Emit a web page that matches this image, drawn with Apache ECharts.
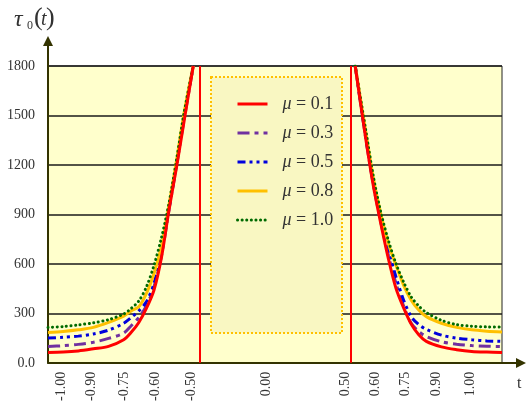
<!DOCTYPE html>
<html>
<head>
<meta charset="utf-8">
<script src="https://cdn.jsdelivr.net/npm/echarts@6/dist/echarts.min.js"></script>
<style>
  html, body { margin: 0; padding: 0; background: #fff; }
  #main { width: 526px; height: 404px; }
</style>
</head>
<body>
<div id="main"></div>
<script>
  // x positions (axis units, asymptotes at -0.5 / 0.5)
  var leftX  = [-1.5, -1.4, -1.3, -1.2, -1.1, -1.0, -0.95, -0.9, -0.85, -0.8, -0.75, -0.7, -0.65, -0.6, -0.54];
  var rightX = [0.53, 0.6, 0.65, 0.7, 0.75, 0.8, 0.85, 0.9, 0.95, 1.0, 1.1, 1.2, 1.3, 1.4, 1.5];

  var muValues = ['0.1', '0.3', '0.5', '0.8', '1.0'];
  var muNames = muValues.map(function (m) { return 'μ = ' + m; });

  var mu01L = [62, 65, 72, 85, 100, 140, 185, 245, 330, 440, 640, 930, 1190, 1470, 1800];
  var mu01R = [1800, 1357, 1072, 840, 628, 450, 333, 235, 170, 130, 97, 80, 69, 65, 63];
  var mu03L = [99, 104, 112, 125, 148, 180, 225, 275, 345, 460, 650, 930, 1200, 1480, 1800];
  var mu03R = [1800, 1360, 1080, 850, 650, 480, 345, 240, 190, 160, 128, 113, 105, 101, 99];
  var mu05L = [150, 155, 162, 175, 198, 240, 275, 315, 370, 480, 670, 940, 1210, 1500, 1800];
  var mu05R = [1800, 1370, 1090, 870, 680, 520, 380, 280, 232, 203, 168, 150, 140, 133, 130];
  var mu08L = [184, 190, 200, 215, 245, 283, 315, 340, 420, 540, 710, 960, 1230, 1520, 1800];
  var mu08R = [1800, 1400, 1120, 900, 720, 590, 470, 380, 320, 280, 240, 215, 200, 192, 187];
  var mu10L = [215, 220, 230, 243, 262, 296, 330, 375, 460, 590, 760, 970, 1235, 1520, 1800];
  var mu10R = [1800, 1410, 1130, 910, 740, 600, 490, 400, 345, 305, 258, 232, 222, 218, 217];

  // x tick labels and where they sit on the axis
  var tickLabels = ['-1.00', '-0.90', '-0.75', '-0.60', '-0.50', '0.00', '0.50', '0.60', '0.75', '0.90', '1.00'];
  var tickPos    = [-1.414, -1.216, -0.998, -0.793, -0.555, -0.059, 0.463, 0.661, 0.859, 1.064, 1.289];

  var asymptotes = [-0.5, 0.5];

  function pairs(lx, ly, rx, ry) {
    var out = [];
    for (var i = 0; i < lx.length; i++) out.push([lx[i], ly[i]]);
    out.push([0, '-']);
    for (var j = 0; j < rx.length; j++) out.push([rx[j], ry[j]]);
    return out;
  }

  var serif = 'Liberation Serif, DejaVu Serif, serif';

  var styles = [
    { color: '#ff0000', type: 'solid' },
    { color: '#7030a0', type: [12, 5, 4, 5] },
    { color: '#0000dd', type: [8, 4, 3, 4, 3, 4] },
    { color: '#ffc000', type: 'solid' },
    { color: '#006a00', type: [0.1, 4.5], cap: 'round' }
  ];
  var values = [
    [mu01L, mu01R], [mu03L, mu03R], [mu05L, mu05R], [mu08L, mu08R], [mu10L, mu10R]
  ];

  var series = [];
  for (var k = 0; k < muNames.length; k++) {
    series.push({
      name: muNames[k],
      type: 'line',
      symbol: 'none',
      smooth: 0.3,
      connectNulls: false,
      z: 3 + (k === 0 ? 2 : 0),
      itemStyle: { color: styles[k].color, opacity: 0 },
      lineStyle: { color: styles[k].color, width: 3, type: styles[k].type, cap: styles[k].cap || 'butt' },
      data: pairs(leftX, values[k][0], rightX, values[k][1])
    });
  }
  series.push({
    name: 'asym',
    type: 'line',
    data: [],
    markLine: {
      silent: true,
      symbol: 'none',
      label: { show: false },
      lineStyle: { color: '#ff0000', width: 2, type: 'solid' },
      data: asymptotes.map(function (a) { return { xAxis: a }; })
    }
  });

  var chart = echarts.init(document.getElementById('main'));
  chart.setOption({
    animation: false,
    backgroundColor: '#ffffff',
    grid: {
      left: 48, right: 24, top: 66, bottom: 41,
      show: true,
      backgroundColor: '#ffffcc',
      borderColor: '#222',
      borderWidth: 1
    },
    xAxis: {
      type: 'value',
      min: -1.5, max: 1.5,
      axisLine: { show: true, onZero: false, lineStyle: { color: '#333300', width: 2 } },
      axisTick: { show: false },
      splitLine: { show: false },
      axisLabel: {
        customValues: tickPos,
        rotate: 90,
        margin: 9,
        color: '#333',
        fontFamily: serif,
        fontSize: 14,
        formatter: function (v) {
          var best = 0;
          for (var i = 1; i < tickPos.length; i++) {
            if (Math.abs(tickPos[i] - v) < Math.abs(tickPos[best] - v)) best = i;
          }
          return tickLabels[best];
        }
      }
    },
    yAxis: {
      type: 'value',
      min: 0, max: 1800, interval: 300,
      axisLine: { show: true, onZero: false, lineStyle: { color: '#333300', width: 2 } },
      axisTick: { show: false },
      splitLine: { show: true, lineStyle: { color: '#1a1a1a', width: 1.5 } },
      axisLabel: {
        color: '#333',
        fontFamily: serif,
        fontSize: 14,
        margin: 13,
        formatter: function (v) { return v === 0 ? '0.0' : String(v); }
      }
    },
    legend: {
      data: muNames,
      orient: 'vertical',
      left: 231,
      top: 90,
      itemWidth: 30,
      itemHeight: 14,
      itemGap: 11,
      z: 10,
      itemStyle: { opacity: 0 },
      lineStyle: { width: 3 },
      formatter: function (name) {
        return '{m|μ} = ' + name.split('= ')[1];
      },
      textStyle: {
        color: '#333',
        fontFamily: serif,
        fontSize: 18,
        lineHeight: 14,
        padding: [0, 0, 0, 10],
        rich: {
          m: { fontStyle: 'italic', fontFamily: serif, fontSize: 18, color: '#333', lineHeight: 14 }
        }
      }
    },
    graphic: [
      { type: 'rect', z: 6, shape: { x: 211, y: 77, width: 131, height: 256 },
        style: { fill: '#f9f7c2', stroke: '#ffc000', lineWidth: 2, lineDash: [2, 2] } },
      // axis arrows
      { type: 'line', z: 7, shape: { x1: 48, y1: 66, x2: 48, y2: 44 }, style: { stroke: '#333300', lineWidth: 2 } },
      { type: 'polygon', z: 7, shape: { points: [[48, 36], [43, 46], [53, 46]] }, style: { fill: '#333300' } },
      { type: 'line', z: 7, shape: { x1: 502, y1: 363, x2: 518, y2: 363 }, style: { stroke: '#333300', lineWidth: 2 } },
      { type: 'polygon', z: 7, shape: { points: [[526, 363], [516, 358], [516, 368]] }, style: { fill: '#333300' } },
      // axis names
      { type: 'text', x: 14, y: 8, style: { text: 'τ', font: 'italic 24px ' + serif, fill: '#333', verticalAlign: 'top' } },
      { type: 'text', x: 27, y: 20, style: { text: '0', font: '12px ' + serif, fill: '#333', verticalAlign: 'top' } },
      { type: 'text', x: 34, y: 5, style: { text: '(', font: '26px ' + serif, fill: '#333', verticalAlign: 'top' } },
      { type: 'text', x: 41, y: 10, style: { text: 't', font: 'italic 20px ' + serif, fill: '#333', verticalAlign: 'top' } },
      { type: 'text', x: 46, y: 5, style: { text: ')', font: '26px ' + serif, fill: '#333', verticalAlign: 'top' } },
      { type: 'text', x: 517, y: 376, style: { text: 't', font: '16px ' + serif, fill: '#333', verticalAlign: 'top' } }
    ],
    series: series
  });
</script>
</body>
</html>
